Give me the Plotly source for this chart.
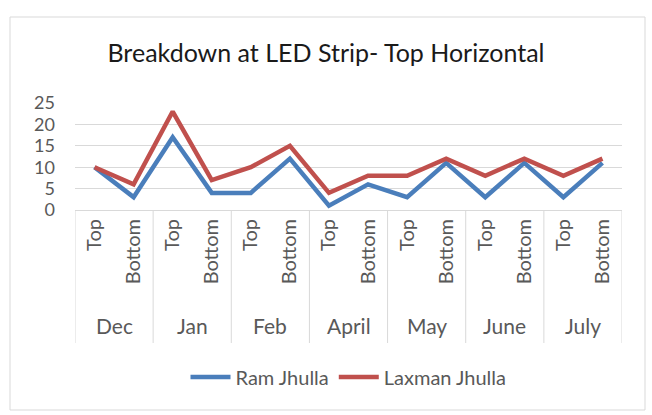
import plotly.graph_objects as go

months = ["Dec", "Jan", "Feb", "April", "May", "June", "July"]
positions = ["Top", "Bottom"]
ram_jhulla = [10, 3, 17, 4, 4, 12, 1, 6, 3, 11, 3, 11, 3, 11]
laxman_jhulla = [10, 6, 23, 7, 10, 15, 4, 8, 8, 12, 8, 12, 8, 12]
y_ticks = [0, 5, 10, 15, 20, 25]

n = len(months) * len(positions)
xs = list(range(n))
tick_text = [p for m in months for p in positions]

L, R, T, B = 75, 30, 103, 205
W, H = 652, 415
pw, ph = W - L - R, H - T - B

def px_to_paper_x(px):
    return (px - L) / pw

def px_to_paper_y(py):
    return (H - B - py) / ph

font_family = "Lato, 'Open Sans', sans-serif"
gray = "#595959"

fig = go.Figure()
fig.add_trace(go.Scatter(x=xs, y=ram_jhulla, mode="lines", name="Ram Jhulla",
                         line=dict(color="#4a7ebb", width=4.5)))
fig.add_trace(go.Scatter(x=xs, y=laxman_jhulla, mode="lines", name="Laxman Jhulla",
                         line=dict(color="#c0504d", width=4.5)))

shapes = []
# group dividers
for g in range(len(months) + 1):
    xv = g * len(positions) - 0.5
    shapes.append(dict(type="line", xref="x", yref="paper", x0=xv, x1=xv,
                       y0=0, y1=px_to_paper_y(343), line=dict(color="#d9d9d9", width=1)))
# chart border
shapes.append(dict(type="rect", xref="paper", yref="paper",
                   x0=px_to_paper_x(10), x1=px_to_paper_x(645),
                   y0=px_to_paper_y(410), y1=px_to_paper_y(17),
                   line=dict(color="#d9d9d9", width=1), fillcolor="rgba(0,0,0,0)", layer="below"))

annotations = []
for g, m in enumerate(months):
    annotations.append(dict(x=g * len(positions) + (len(positions) - 1) / 2, xref="x",
                            y=px_to_paper_y(325), yref="paper", text=m, showarrow=False,
                            font=dict(family=font_family, size=21, color=gray),
                            xanchor="center", yanchor="middle"))

fig.update_layout(
    width=W, height=H,
    margin=dict(l=L, r=R, t=T, b=B),
    paper_bgcolor="white", plot_bgcolor="white",
    title=dict(text="Breakdown at LED Strip- Top Horizontal", x=0.5, xanchor="center",
               y=1 - 53 / H, yanchor="middle",
               font=dict(family=font_family, size=25, color="#1a1a1a")),
    xaxis=dict(range=[-0.5, n - 0.5], tickmode="array", tickvals=xs, ticktext=tick_text,
               tickangle=-90, showgrid=False, zeroline=False, showline=True,
               linecolor="#d9d9d9", linewidth=1, ticks="",
               tickfont=dict(family=font_family, size=20, color=gray),
               fixedrange=True),
    yaxis=dict(range=[0, 25], tickmode="array", tickvals=y_ticks,
               showgrid=True, gridcolor="#d9d9d9", gridwidth=1, zeroline=False,
               showline=False, ticks="", ticklabelstandoff=19,
               tickfont=dict(family=font_family, size=18, color=gray),
               fixedrange=True),
    legend=dict(orientation="h", x=0.5, xanchor="center", y=px_to_paper_y(377),
                yanchor="middle", font=dict(family=font_family, size=20, color=gray),
                itemwidth=40, traceorder="normal"),
    shapes=shapes,
    annotations=annotations,
    showlegend=True,
)

fig.write_html("out.html", config={"displayModeBar": False},
               post_script="document.body.style.margin='0';")
